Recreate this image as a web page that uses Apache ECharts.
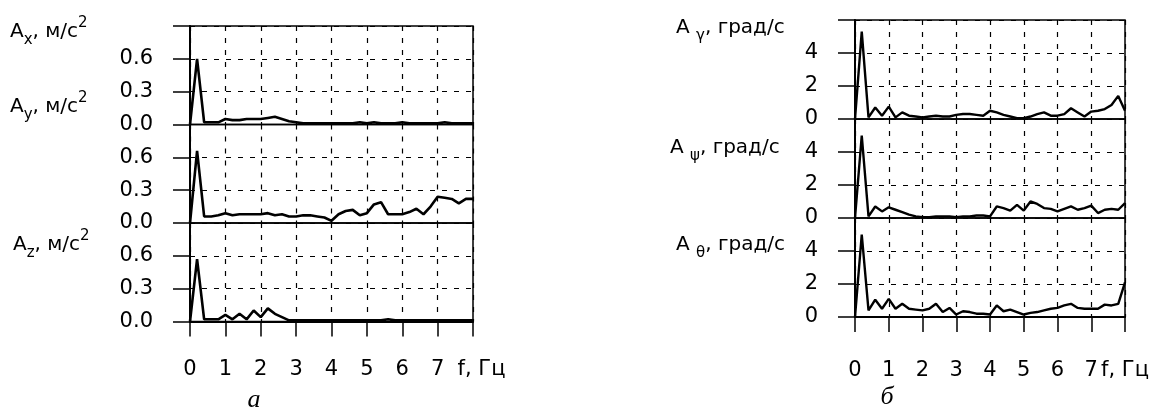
<!DOCTYPE html>
<html>
<head>
<meta charset="utf-8">
<script src="https://cdn.jsdelivr.net/npm/echarts@6/dist/echarts.min.js"></script>
<style>html,body{margin:0;background:#fff}#container{width:1161px;height:410px}</style>
</head>
<body>
<div id="container"></div>
<script>
// частота, Гц
var freq = [0, 0.2, 0.4, 0.6, 0.8, 1, 1.2, 1.4, 1.6, 1.8, 2, 2.2, 2.4, 2.6, 2.8, 3, 3.2, 3.4, 3.6, 3.8, 4,
            4.2, 4.4, 4.6, 4.8, 5, 5.2, 5.4, 5.6, 5.8, 6, 6.2, 6.4, 6.6, 6.8, 7, 7.2, 7.4, 7.6, 7.8, 8];

// а) ускорения, м/с2
var ax = [0, 0.60, 0.02, 0.02, 0.02, 0.05, 0.04, 0.04, 0.05, 0.05, 0.05, 0.06, 0.07, 0.05, 0.03, 0.02, 0.01, 0.01, 0.01, 0.01, 0.01,
          0.01, 0.01, 0.01, 0.02, 0.01, 0.02, 0.01, 0.01, 0.01, 0.02, 0.01, 0.01, 0.01, 0.01, 0.01, 0.02, 0.01, 0.01, 0.01, 0.01];
var ay = [0, 0.66, 0.06, 0.06, 0.07, 0.09, 0.07, 0.08, 0.08, 0.08, 0.08, 0.09, 0.07, 0.08, 0.06, 0.06, 0.07, 0.07, 0.06, 0.05, 0.02,
          0.08, 0.11, 0.12, 0.07, 0.09, 0.17, 0.19, 0.08, 0.08, 0.08, 0.10, 0.13, 0.08, 0.15, 0.24, 0.23, 0.22, 0.18, 0.22, 0.22];
var az = [0, 0.57, 0.02, 0.02, 0.02, 0.06, 0.02, 0.07, 0.02, 0.10, 0.04, 0.12, 0.07, 0.04, 0.01, 0.01, 0.01, 0.01, 0.01, 0.01, 0.01,
          0.01, 0.01, 0.01, 0.01, 0.01, 0.01, 0.01, 0.02, 0.01, 0.01, 0.01, 0.01, 0.01, 0.01, 0.01, 0.01, 0.01, 0.01, 0.01, 0.01];

// б) угловые скорости, град/с
var agamma = [0, 5.3, 0.1, 0.7, 0.2, 0.75, 0.1, 0.4, 0.2, 0.15, 0.1, 0.15, 0.2, 0.15, 0.15, 0.25, 0.3, 0.3, 0.25, 0.2, 0.5,
              0.4, 0.25, 0.15, 0.05, 0.05, 0.15, 0.3, 0.4, 0.2, 0.2, 0.3, 0.65, 0.4, 0.15, 0.45, 0.5, 0.6, 0.85, 1.4, 0.5];
var apsi = [0, 5.0, 0.1, 0.7, 0.4, 0.65, 0.5, 0.35, 0.2, 0.1, 0.05, 0.05, 0.1, 0.1, 0.1, 0.05, 0.1, 0.1, 0.15, 0.15, 0.1,
            0.7, 0.6, 0.45, 0.8, 0.45, 1.0, 0.85, 0.6, 0.55, 0.4, 0.55, 0.7, 0.5, 0.6, 0.75, 0.3, 0.5, 0.55, 0.5, 0.9];
var atheta = [0, 5.0, 0.4, 1.05, 0.5, 1.1, 0.5, 0.8, 0.5, 0.45, 0.4, 0.5, 0.8, 0.3, 0.55, 0.15, 0.35, 0.3, 0.2, 0.2, 0.15,
              0.7, 0.35, 0.45, 0.3, 0.15, 0.25, 0.3, 0.4, 0.5, 0.55, 0.7, 0.8, 0.55, 0.5, 0.5, 0.5, 0.75, 0.7, 0.8, 2.1];

// шкалы
var accelMax = 0.9, accelStep = 0.3;
var rateMax = 6, rateStep = 2;
var freqMax = 8, freqStep = 1;
var freqName = 'f, Гц';

var FONT = 'DejaVu Sans';
var dom = document.getElementById('container');
var myChart = echarts.init(dom);

function pairs(vals) {
    return vals.map(function (v, i) { return [freq[i], v]; });
}

var dash = [5, 7];
var panels = [
    { left: 190, width: 283, tops: [26, 124.5, 223], h: 98.5, max: accelMax, step: accelStep, digits: 1, data: [ax, ay, az], lw: 2.6, xMargin: 38, namePad: 17 },
    { left: 855, width: 270, tops: [20, 119, 218], h: 99, max: rateMax, step: rateStep, digits: 0, data: [agamma, apsi, atheta], lw: 2.4, xMargin: 43, namePad: 0 }
];

var grids = [], xAxes = [], yAxes = [], series = [];
panels.forEach(function (p) {
    p.tops.forEach(function (top, k) {
        var idx = grids.length;
        var bottom = k === p.tops.length - 1;
        grids.push({
            left: p.left, top: top, width: p.width, height: p.h,
            show: true, borderColor: '#000', borderWidth: 1.5, backgroundColor: 'transparent',
            containLabel: false, outerBoundsMode: 'none'
        });
        xAxes.push({
            gridIndex: idx, type: 'value', min: 0, max: freqMax, interval: freqStep,
            axisLine: { show: bottom, lineStyle: { color: '#000', width: 2 } },
            axisTick: { show: bottom, length: 15, lineStyle: { color: '#000', width: 1.5 } },
            axisLabel: {
                show: bottom, margin: p.xMargin, color: '#000', fontFamily: FONT, fontSize: 21,
                showMinLabel: true, showMaxLabel: true,
                formatter: function (v) { return v === freqMax ? '{f|' + freqName + '}' : String(v); },
                rich: { f: { fontFamily: FONT, fontSize: 21, color: '#000', padding: [0, 0, 0, p.namePad] } }
            },
            splitLine: { show: true, lineStyle: { color: '#000', type: dash, width: 1.2 } }
        });
        yAxes.push({
            gridIndex: idx, type: 'value', min: 0, max: p.max, interval: p.step,
            axisLine: { show: true, lineStyle: { color: '#000', width: 2 } },
            axisTick: { show: true, length: 17, lineStyle: { color: '#000', width: 1.5 } },
            axisLabel: {
                margin: 37, color: '#000', fontFamily: FONT, fontSize: 21,
                formatter: function (v) { return Math.abs(v - p.max) < 1e-6 ? '' : v.toFixed(p.digits); }
            },
            splitLine: { show: true, lineStyle: { color: '#000', type: dash, width: 1.2 } }
        });
        series.push({
            type: 'line', xAxisIndex: idx, yAxisIndex: idx,
            data: pairs(p.data[k]), symbol: 'none', smooth: false,
            lineStyle: { color: '#000', width: p.lw }, z: 5
        });
    });
});

var rich = {
    m: { fontFamily: FONT, fontSize: 20, lineHeight: 32, verticalAlign: 'middle', fill: '#000' },
    s: { fontFamily: FONT, fontSize: 15, lineHeight: 15, verticalAlign: 'bottom', fill: '#000' },
    p: { fontFamily: FONT, fontSize: 15, lineHeight: 19, verticalAlign: 'top', fill: '#000' }
};
function label(x, y, txt) {
    return { type: 'text', x: x, y: y, z: 10, style: { text: txt, rich: rich, verticalAlign: 'middle', fill: '#000' } };
}
var graphics = [
    label(10, 32, '{m|A}{s|x}{m|, м/с}{p|2}'),
    label(10, 107, '{m|A}{s|y}{m|, м/с}{p|2}'),
    label(13, 245, '{m|A}{s|z}{m|, м/с}{p|2}'),
    label(676, 28, '{m|A }{s|γ}{m|, град/с}'),
    label(670, 148, '{m|A }{s|ψ}{m|, град/с}'),
    label(676, 245, '{m|A }{s|θ}{m|, град/с}'),
    { type: 'text', x: 254, y: 400, style: { text: 'а', font: 'italic 26px "Liberation Serif"', fill: '#000', align: 'center', verticalAlign: 'middle' } },
    { type: 'text', x: 887, y: 397, style: { text: 'б', font: 'italic 26px "Liberation Serif"', fill: '#000', align: 'center', verticalAlign: 'middle' } }
];

option = {
    animation: false,
    backgroundColor: '#fff',
    grid: grids,
    xAxis: xAxes,
    yAxis: yAxes,
    series: series,
    graphic: graphics
};
if (option && typeof option === 'object') {
    myChart.setOption(option, true);
}
</script>
</body>
</html>
